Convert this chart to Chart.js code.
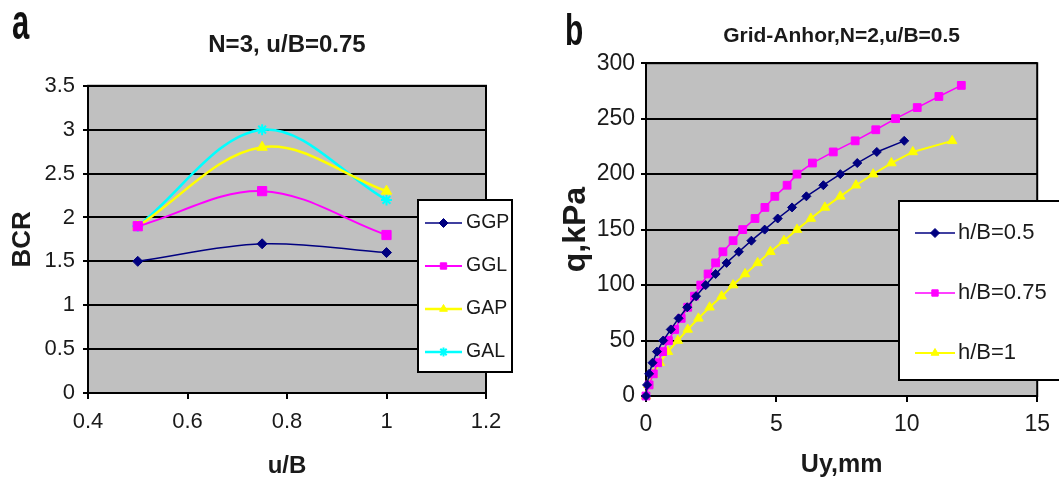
<!DOCTYPE html>
<html>
<head>
<meta charset="utf-8">
<script src="https://cdn.jsdelivr.net/npm/chart.js@4.4.1/dist/chart.umd.min.js"></script>
<style>
html,body{margin:0;padding:0;background:#fff;}
body{width:1059px;height:485px;position:relative;overflow:hidden;font-family:'Liberation Sans',Arial,sans-serif;}
.panel{position:absolute;top:0;height:485px;}
#wrapA{left:0;width:530px;}
#wrapB{left:530px;width:529px;}
.tag{position:absolute;font-weight:bold;color:#111;line-height:1;transform-origin:left top;}
</style>
</head>
<body>
<div class="panel" id="wrapA"><canvas id="chartA" width="530" height="485"></canvas></div>
<div class="panel" id="wrapB"><canvas id="chartB" width="529" height="485"></canvas></div>
<div class="tag" style="left:12px;top:-3px;font-size:50px;transform:scaleX(.62)">a</div>
<div class="tag" style="left:565px;top:8px;font-size:44px;transform:scaleX(.68)">b</div>
<script>
// ─── panel a : BCR vs u/B ───
const ubValues = [0.5, 0.75, 1];
const bcrGGP = [1.5, 1.7, 1.6];
const bcrGGL = [1.9, 2.3, 1.8];
const bcrGAP = [1.9, 2.8, 2.3];
const bcrGAL = [1.9, 3.0, 2.2];
const namesA = ['GGP', 'GGL', 'GAP', 'GAL'];
const xTicksA = [0.4, 0.6, 0.8, 1, 1.2];
const yTicksA = [0, 0.5, 1, 1.5, 2, 2.5, 3, 3.5];

// ─── panel b : q vs Uy ───
const q05  = [0,10,20,30,40,50,60,70,80,90,100,110,120,130,140,150,160,170,180,190,200,210,220,230];
const uy05 = [0,0.04,0.12,0.25,0.42,0.66,0.95,1.25,1.58,1.92,2.29,2.67,3.09,3.56,4.04,4.55,5.05,5.6,6.15,6.8,7.45,8.1,8.85,9.9];
const q075  = [0,10,20,30,40,50,60,70,80,90,100,110,120,130,140,150,160,170,180,190,200,210,220,230,240,250,260,270,280];
const uy075 = [0,0.12,0.28,0.45,0.64,0.86,1.1,1.35,1.6,1.86,2.1,2.38,2.67,2.95,3.34,3.71,4.18,4.56,4.94,5.41,5.79,6.38,7.18,8.02,8.81,9.57,10.4,11.23,12.09];
const q1  = [0,10,20,30,40,50,60,70,80,90,100,110,120,130,140,150,160,170,180,190,200,210,220,230];
const uy1 = [0,0.09,0.28,0.53,0.84,1.22,1.6,2.01,2.44,2.9,3.34,3.8,4.28,4.77,5.29,5.79,6.32,6.86,7.45,8.05,8.71,9.41,10.23,11.74];
const namesB = ['h/B=0.5', 'h/B=0.75', 'h/B=1'];
const xTicksB = [0, 5, 10, 15];
const yTicksB = [0, 50, 100, 150, 200, 250, 300];

const FONT = "'Liberation Sans', Arial, sans-serif";
const INK = '#1a1a1a';

const pts = (xs, ys) => xs.map((x, i) => ({x, y: ys[i]}));

// grey plot area with black frame (Excel look)
const plotFrame = {
  id: 'plotFrame',
  beforeDraw(chart) {
    const {ctx, chartArea: a} = chart;
    ctx.save();
    ctx.fillStyle = '#c0c0c0';
    ctx.fillRect(a.left, a.top, a.right - a.left, a.bottom - a.top);
    ctx.restore();
  },
  beforeDatasetsDraw(chart) {
    const {ctx, chartArea: a} = chart;
    ctx.save();
    ctx.strokeStyle = '#000'; ctx.lineWidth = 2;
    ctx.strokeRect(a.left, a.top, a.right - a.left, a.bottom - a.top);
    ctx.restore();
  }
};

// legend box sitting on top of the plot
const boxLegend = {
  id: 'boxLegend',
  afterDraw(chart, args, o) {
    const ctx = chart.ctx;
    ctx.save();
    ctx.fillStyle = '#fff';
    ctx.fillRect(o.left, o.top, o.width, o.height);
    ctx.strokeStyle = '#000'; ctx.lineWidth = 2;
    ctx.strokeRect(o.left, o.top, o.width, o.height);
    chart.data.datasets.forEach((ds, i) => {
      const y = o.top + o.first + i * o.step;
      const x0 = o.left + o.lineStart, x1 = x0 + o.lineLen;
      ctx.strokeStyle = ds.borderColor; ctx.lineWidth = ds.borderWidth;
      ctx.beginPath(); ctx.moveTo(x0, y); ctx.lineTo(x1, y); ctx.stroke();
      ctx.fillStyle = ds.pointBackgroundColor; ctx.strokeStyle = ds.pointBorderColor;
      ctx.lineWidth = ds.pointBorderWidth;
      Chart.helpers.drawPoint(ctx, {pointStyle: ds.pointStyle, radius: o.markR, borderWidth: ds.pointBorderWidth, rotation: 0}, (x0 + x1) / 2, y);
      ctx.fillStyle = INK; ctx.font = o.font; ctx.textBaseline = 'middle'; ctx.textAlign = 'left';
      ctx.fillText(ds.label, x1 + o.textGap, y);
    });
    ctx.restore();
  }
};

function series(label, data, color, style, r, lw, tension) {
  return {
    label, data, borderColor: color, backgroundColor: color,
    pointBackgroundColor: color, pointBorderColor: color, pointBorderWidth: style === 'star' ? 2 : 1,
    pointStyle: style, pointRadius: r, borderWidth: lw, tension, clip: false
  };
}

function axes(o) {
  return {
    x: {
      type: 'linear', min: o.xTicks[0], max: o.xTicks[o.xTicks.length - 1],
      afterBuildTicks: s => { s.ticks = o.xTicks.map(v => ({value: v})); },
      afterFit: s => { s.height = o.xHeight; },
      grid: {drawOnChartArea: false, drawTicks: true, tickLength: 6, color: '#000', lineWidth: 2},
      border: {display: true, color: '#000', width: 2},
      ticks: {color: INK, font: {family: FONT, size: o.tickSize}, padding: o.xPad, maxRotation: 0, callback: v => String(v)},
      title: {display: true, text: o.xTitle, color: INK, font: {family: FONT, size: o.xTitleSize, weight: 'bold'}, padding: {top: 0, bottom: o.xTitlePad}}
    },
    y: {
      type: 'linear', min: o.yTicks[0], max: o.yTicks[o.yTicks.length - 1],
      afterBuildTicks: s => { s.ticks = o.yTicks.map(v => ({value: v})); },
      afterFit: s => { s.width = o.yWidth; },
      grid: {color: '#000', lineWidth: 2, drawTicks: true, tickLength: 5},
      border: {display: true, color: '#000', width: 2},
      ticks: {color: INK, font: {family: FONT, size: o.tickSize}, padding: o.yPad, callback: v => String(v)},
      title: {display: true, text: o.yTitle, color: INK, font: {family: FONT, size: o.yTitleSize, weight: 'bold'}, padding: {top: o.yTitlePad, bottom: 0}}
    }
  };
}

new Chart(document.getElementById('chartA'), {
  type: 'line',
  data: {datasets: [
    series(namesA[0], pts(ubValues, bcrGGP), '#000080', 'rectRot', 5, 1.5, 0.35),
    series(namesA[1], pts(ubValues, bcrGGL), '#ff00ff', 'rect', 6.5, 2, 0.35),
    series(namesA[2], pts(ubValues, bcrGAP), '#ffff00', 'triangle', 6, 2.5, 0.35),
    series(namesA[3], pts(ubValues, bcrGAL), '#00ffff', 'star', 5.5, 2.5, 0.35)
  ]},
  options: {
    responsive: false, animation: false, devicePixelRatio: 1,
    layout: {padding: {left: 0, right: 44, top: 18, bottom: 0}},
    scales: axes({xTicks: xTicksA, yTicks: yTicksA, xHeight: 92, yWidth: 88, tickSize: 22, xPad: 10, yPad: 8,
      xTitle: 'u/B', xTitleSize: 24, xTitlePad: 4, yTitle: 'BCR', yTitleSize: 26, yTitlePad: 7}),
    plugins: {
      legend: {display: false}, tooltip: {enabled: false},
      title: {display: true, text: 'N=3, u/B=0.75', fullSize: false, color: INK,
        font: {family: FONT, size: 24, weight: 'bold'}, padding: {top: 13, bottom: 26}},
      boxLegend: {left: 418, top: 200, width: 94, height: 172, first: 23, step: 43, markR: 4.5,
        lineStart: 7, lineLen: 37, textGap: 4, font: `19.5px ${FONT}`}
    }
  },
  plugins: [plotFrame, boxLegend]
});

new Chart(document.getElementById('chartB'), {
  type: 'line',
  data: {datasets: [
    series(namesB[0], pts(uy05, q05), '#000080', 'rectRot', 4.5, 1.5, 0),
    series(namesB[1], pts(uy075, q075), '#ff00ff', 'rect', 5.5, 1.5, 0),
    series(namesB[2], pts(uy1, q1), '#ffff00', 'triangle', 5.5, 2, 0)
  ]},
  options: {
    responsive: false, animation: false, devicePixelRatio: 1,
    layout: {padding: {left: 0, right: 16, top: 14, bottom: 0}},
    scales: axes({xTicks: xTicksB, yTicks: yTicksB, xHeight: 89, yWidth: 116, tickSize: 23, xPad: 9, yPad: 6,
      xTitle: 'Uy,mm', xTitleSize: 25, xTitlePad: 5, yTitle: 'q,kPa', yTitleSize: 32, yTitlePad: 27}),
    plugins: {
      legend: {display: false}, tooltip: {enabled: false},
      title: {display: true, text: 'Grid-Anhor,N=2,u/B=0.5', fullSize: false, color: INK,
        font: {family: FONT, size: 21, weight: 'bold'}, padding: {top: 10, bottom: 14}},
      boxLegend: {left: 369, top: 201, width: 200, height: 179, first: 32, step: 60, markR: 4.5,
        lineStart: 16, lineLen: 40, textGap: 3, font: `22px ${FONT}`}
    }
  },
  plugins: [plotFrame, boxLegend]
});
</script>
</body>
</html>
